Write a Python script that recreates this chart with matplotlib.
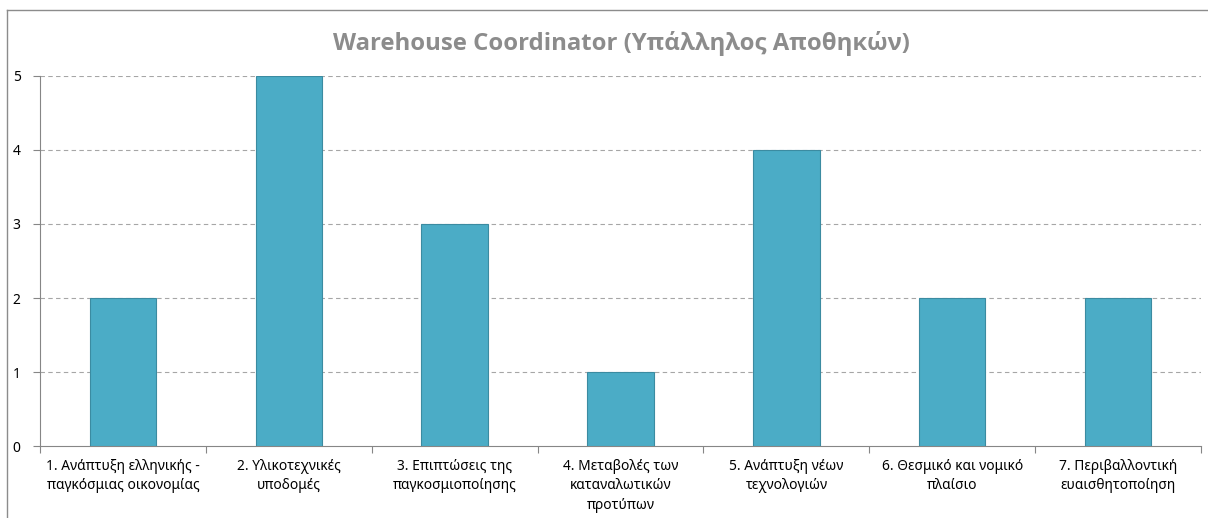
import matplotlib
matplotlib.use("Agg")
import matplotlib.pyplot as plt
from matplotlib.lines import Line2D
import numpy as np

plt.rcParams['font.family'] = ['Noto Sans', 'DejaVu Sans']

title = "Warehouse Coordinator (Υπάλληλος Αποθηκών)"
categories = [
    "1. Ανάπτυξη ελληνικής -\nπαγκόσμιας οικονομίας",
    "2. Υλικοτεχνικές\nυποδομές",
    "3. Επιπτώσεις της\nπαγκοσμιοποίησης",
    "4. Μεταβολές των\nκαταναλωτικών\nπροτύπων",
    "5. Ανάπτυξη νέων\nτεχνολογιών",
    "6. Θεσμικό και νομικό\nπλαίσιο",
    "7. Περιβαλλοντική\nευαισθητοποίηση",
]
values = [2, 5, 3, 1, 4, 2, 2]
yticks = [0, 1, 2, 3, 4, 5]

W, H = 1208, 518
fig = plt.figure(figsize=(W / 100, H / 100), dpi=100)
ax = fig.add_axes([40 / W, (H - 446) / H, (1201 - 40) / W, (446 - 76) / H])

x = np.arange(len(categories))
ax.bar(x, values, width=0.4, color="#4BACC6", edgecolor="#3b8ba1", linewidth=0.8, zorder=3)

ax.set_xlim(-0.5, len(categories) - 0.5)
ax.set_ylim(0, 5)
ax.set_yticks(yticks)
ax.set_yticklabels([str(v) for v in yticks], fontsize=10, color="#000000")
ax.set_xticks(x)
ax.set_xticklabels(categories, fontsize=9.9, color="#000000", linespacing=1.45)
ax.set_xticks(np.arange(-0.5, len(categories)), minor=True)
ax.tick_params(axis='x', which='major', length=0, pad=9)
ax.tick_params(axis='x', which='minor', length=5, color="#868686", width=0.8)
ax.tick_params(axis='y', which='major', length=5, color="#868686", width=0.8, pad=9)

for v in yticks[1:]:
    ax.axhline(v, color="#a6a6a6", linewidth=0.8, linestyle=(0, (4, 3)), zorder=1)

for s in ['top', 'right']:
    ax.spines[s].set_visible(False)
for s in ['left', 'bottom']:
    ax.spines[s].set_color("#868686")
    ax.spines[s].set_linewidth(0.8)

fig.text(621 / W, 1 - 43 / H, title, ha='center', va='center', fontsize=17.2,
         fontweight='bold', color="#8c8c8c", family=['Open Sans', 'DejaVu Sans'])

# outer chart border
fig.add_artist(Line2D([7 / W, 7 / W], [0, 1 - 10 / H], transform=fig.transFigure,
                      color="#8c8c8c", linewidth=1))
fig.add_artist(Line2D([7 / W, 1], [1 - 10 / H, 1 - 10 / H], transform=fig.transFigure,
                      color="#8c8c8c", linewidth=1))

fig.savefig("out.png", dpi=100)
